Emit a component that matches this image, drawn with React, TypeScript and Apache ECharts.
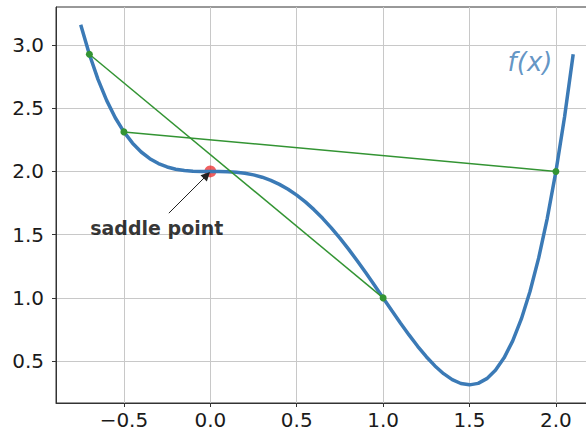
import React, { useEffect, useRef } from "react";
import * as echarts from "echarts";

const curveX = [-0.75, -0.7, -0.65, -0.6, -0.55, -0.5, -0.45, -0.4, -0.35, -0.3, -0.25, -0.2, -0.15, -0.1, -0.05, 0, 0.05, 0.1, 0.15, 0.2, 0.25, 0.3, 0.35, 0.4, 0.45, 0.5, 0.55, 0.6, 0.65, 0.7, 0.75, 0.8, 0.85, 0.9, 0.95, 1.0, 1.05, 1.1, 1.15, 1.2, 1.25, 1.3, 1.35, 1.4, 1.45, 1.5, 1.55, 1.6, 1.65, 1.7, 1.75, 1.8, 1.85, 1.9, 1.95, 2.0, 2.05, 2.1];
const curveY = [3.1602, 2.9261, 2.7278, 2.5616, 2.4243, 2.3125, 2.2233, 2.1536, 2.1008, 2.0621, 2.0352, 2.0176, 2.0073, 2.0021, 2.0003, 2.0, 1.9998, 1.9981, 1.9938, 1.9856, 1.9727, 1.9541, 1.9293, 1.8976, 1.8588, 1.8125, 1.7588, 1.6976, 1.6293, 1.5541, 1.4727, 1.3856, 1.2938, 1.1981, 1.0998, 1.0, 0.9003, 0.8021, 0.7073, 0.6176, 0.5352, 0.4621, 0.4008, 0.3536, 0.3233, 0.3125, 0.3243, 0.3616, 0.4278, 0.5261, 0.6602, 0.8336, 1.0503, 1.3141, 1.6293, 2.0, 2.4308, 2.9261];

const secantA: [number, number][] = [[-0.7, 2.9261], [1.0, 1.0]];
const secantB: [number, number][] = [[-0.5, 2.3125], [2.0, 2.0]];
const saddle: [number, number] = [0, 2.0];
const arrowFrom: [number, number] = [-0.24, 1.67];
const arrowTo: [number, number] = [-0.02, 1.97];
const annotationPos: [number, number] = [-0.31, 1.555];
const annotationText = "saddle point";
const fLabelPos: [number, number] = [1.85, 2.865];
const fLabelText = "f(x)";

const xTicks = [-0.5, 0.0, 0.5, 1.0, 1.5, 2.0];
const yTicks = [0.5, 1.0, 1.5, 2.0, 2.5, 3.0];

const fmt = (v: number) => v.toFixed(1).replace("-", "\u2212");

export default function App() {
  const ref = useRef<HTMLDivElement>(null);
  useEffect(() => {
    if (!ref.current) return;
    const chart = echarts.init(ref.current, null, { renderer: "svg" });
    const font = "DejaVu Sans";
    const green = "#339433";
    const blue = "#3b7ab6";
    chart.setOption({
      animation: false,
      grid: {
        left: 56,
        top: 7,
        bottom: 28,
        right: 0,
        show: true,
        borderColor: "#333",
        borderWidth: 1,
        backgroundColor: "transparent",
      },
      xAxis: {
        type: "value",
        min: -0.893,
        max: 2.232,
        axisLine: { show: true, onZero: false, lineStyle: { color: "#333" } },
        axisTick: { show: true, length: 4, customValues: xTicks, lineStyle: { color: "#333" } },
        axisLabel: {
          customValues: xTicks,
          formatter: fmt,
          fontFamily: font,
          fontSize: 20,
          color: "#1a1a1a",
          margin: 7,
        },
        splitLine: { show: true, lineStyle: { color: "#c8c8c8", width: 1 } },
      },
      yAxis: {
        type: "value",
        min: 0.169,
        max: 3.3,
        axisLine: { show: true, onZero: false, lineStyle: { color: "#333" } },
        axisTick: { show: true, length: 4, customValues: yTicks, lineStyle: { color: "#333" } },
        axisLabel: {
          customValues: yTicks,
          formatter: fmt,
          fontFamily: font,
          fontSize: 20,
          color: "#1a1a1a",
          margin: 12,
        },
        splitLine: { show: true, lineStyle: { color: "#c8c8c8", width: 1 } },
      },
      series: [
        {
          type: "scatter",
          data: [saddle],
          symbolSize: 12,
          itemStyle: { color: "rgba(235,35,35,0.9)" },
          z: 1,
        },
        {
          type: "line",
          data: curveX.map((x, i) => [x, curveY[i]]),
          showSymbol: false,
          lineStyle: { color: blue, width: 3.5 },
          z: 2,
        },
        {
          type: "line",
          data: secantA,
          symbol: "circle",
          symbolSize: 7,
          showSymbol: true,
          lineStyle: { color: green, width: 1.5 },
          itemStyle: { color: green, borderWidth: 0 },
          z: 4,
        },
        {
          type: "line",
          data: secantB,
          symbol: "circle",
          symbolSize: 7,
          showSymbol: true,
          lineStyle: { color: green, width: 1.5 },
          itemStyle: { color: green, borderWidth: 0 },
          z: 4,
        },
        {
          type: "lines",
          coordinateSystem: "cartesian2d",
          data: [{ coords: [arrowFrom, arrowTo] }],
          symbol: ["none", "triangle"],
          symbolSize: 9,
          lineStyle: { color: "#222", width: 1, opacity: 1 },
          itemStyle: { color: "#34577d" },
          z: 5,
        },
        {
          type: "scatter",
          data: [annotationPos],
          symbolSize: 0,
          silent: true,
          label: {
            show: true,
            position: "inside",
            formatter: annotationText,
            fontFamily: font,
            fontWeight: "bold",
            fontSize: 19,
            color: "#000",
          },
          z: 6,
        },
        {
          type: "scatter",
          data: [fLabelPos],
          symbolSize: 0,
          silent: true,
          label: {
            show: true,
            position: "inside",
            formatter: fLabelText,
            fontFamily: font,
            fontStyle: "italic",
            fontSize: 26,
            color: blue,
          },
          z: 6,
        },
      ],
    });
    return () => chart.dispose();
  }, []);
  return (
    <div style={{ width: 586, height: 431, position: "absolute", left: 0, top: 0, overflow: "hidden" }}>
      <div ref={ref} style={{ width: 596, height: 431 }} />
    </div>
  );
}
